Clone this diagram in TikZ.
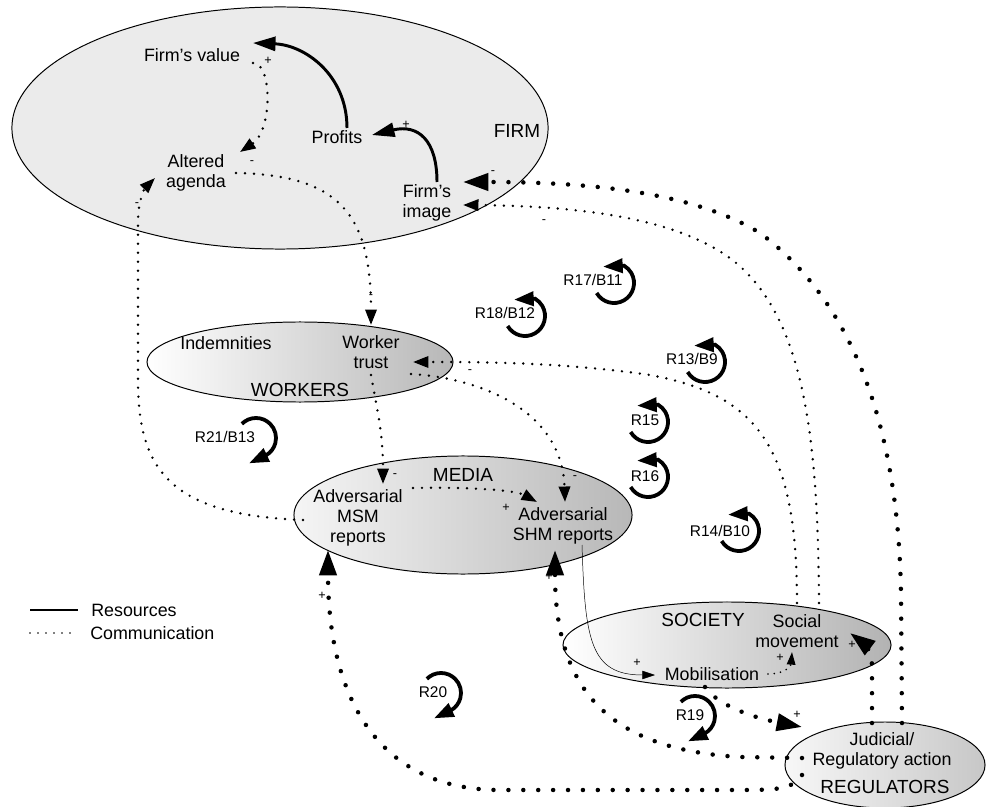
\documentclass[tikz,border=0pt]{standalone}
\usepackage{fontspec}
\setmainfont{Liberation Sans}
\usetikzlibrary{shapes.geometric,arrows.meta,calc}

\begin{document}
\begin{tikzpicture}[x=0.025cm,y=0.025cm,font=\fontsize{12.7}{14.4}\selectfont,
  zone/.style={ellipse,draw,line width=0.7pt,inner sep=0pt},
  txt/.style={align=center,inner sep=1pt},
  zonelbl/.style={inner sep=1pt,font=\fontsize{13.5}{15}\selectfont},
  sgn/.style={inner sep=0pt,font=\fontsize{9}{9}\selectfont},
  res/.style={line width=2.1pt,-{Triangle[length=16pt,width=10pt]}},
  resthin/.style={line width=0.35pt,-{Triangle[length=9pt,width=6pt]}},
  comm/.style={line width=1.9pt,line cap=round,dash pattern=on 0pt off 6.4pt,-{Triangle[length=11pt,width=8pt]}},
  commsmall/.style={line width=1.3pt,line cap=round,dash pattern=on 0pt off 4.5pt,-{Triangle[length=9pt,width=6pt]}},
  commbig/.style={line width=3.2pt,line cap=round,dash pattern=on 0pt off 10.6pt,-{Triangle[length=18pt,width=12pt]}},
  looplbl/.style={inner sep=0pt,font=\fontsize{11}{11}\selectfont},
  looparr/.style={line width=2.7pt,-{Triangle[length=14pt,width=10pt]}}]

\useasboundingbox (0,0) rectangle (987,-807);

% sectors
\node[zone,fill=black!8,minimum width=13.4cm,minimum height=6.05cm] (firm) at (280,-128) {};
\node[zone,left color=white,right color=black!28,minimum width=7.65cm,minimum height=2cm] (workers) at (300,-362) {};
\node[zone,left color=black!4,right color=black!28,minimum width=8.45cm,minimum height=2.95cm] (media) at (463,-515) {};
\node[zone,left color=white,right color=black!30,minimum width=8.2cm,minimum height=2.15cm] (society) at (727,-645) {};
\node[zone,left color=black!3,right color=black!22,minimum width=5cm,minimum height=2.15cm] (regulators) at (885,-765) {};

\node[zonelbl] (firmlbl) at (517,-131) {FIRM};
\node[zonelbl] (workerslbl) at (300,-390) {WORKERS};
\node[zonelbl] (medialbl) at (463,-475) {MEDIA};
\node[zonelbl] (societylbl) at (703,-620) {SOCIETY};
\node[zonelbl] (regulatorslbl) at (885,-787) {REGULATORS};

% variables
\node[txt] (fval) at (192,-55) {Firm’s value};
\node[txt] (prof) at (337,-137) {Profits};
\node[txt] (agenda) at (196,-173) {Altered\\agenda};
\node[txt] (fimage) at (427,-203) {Firm’s\\image};
\node[txt] (indem) at (226,-343) {Indemnities};
\node[txt] (wtrust) at (371,-352) {Worker\\trust};
\node[txt] (msm) at (358,-518) {Adversarial\\MSM\\reports};
\node[txt] (shm) at (563,-526) {Adversarial\\SHM reports};
\node[txt] (smov) at (797,-631) {Social\\movement};
\node[txt] (mobil) at (712,-674) {Mobilisation};
\node[txt] (judic) at (882,-751) {Judicial/\\Regulatory action};

% resources
\draw[res] ($(prof)+(10,9)$) .. controls (347,-75) and (305,-45) .. ($(fval)+(61,12)$);
\draw[res] ($(fimage)+(10,21)$) .. controls (437,-140) and (418,-124) .. ($(prof)+(35,2)$);
\draw[resthin] ($(shm)+(19,-19)$) .. controls (585,-640) and (590,-675) .. ($(mobil)+(-57,-1)$);

% communication
\draw[comm] ($(fval)+(61,-8)$) .. controls (272,-62) and (273,-130) .. ($(agenda)+(44,21)$);
\draw[comm] ($(agenda)+(40,0)$) .. controls (340,-175) and (371,-215) .. ($(wtrust)+(0,27)$);
\draw[comm] ($(msm)+(-55,-2)$) .. controls (170,-515) and (138,-470) .. (138,-380) -- (138,-222)
  .. controls (138,-200) and (145,-188) .. ($(agenda)+(-41,-5)$);
\draw[comm] ($(wtrust)+(0,-23)$) .. controls (376,-405) and (383,-430) .. ($(msm)+(25,34)$);
\draw[comm] ($(wtrust)+(40,-22)$) .. controls (480,-378) and (562,-410) .. ($(shm)+(2,24)$);
\draw[comm] ($(msm)+(55,30)$) .. controls (470,-487) and (515,-490) .. ($(shm)+(-26,24)$);
\draw[comm] ($(smov)+(0,28)$) .. controls (797,-450) and (760,-395) .. (650,-375)
  .. controls (560,-362) and (480,-362) .. ($(wtrust)+(42,-10)$);
\draw[comm] ($(smov)+(22,28)$) .. controls (818,-440) and (805,-320) .. (735,-262)
  .. controls (680,-218) and (580,-206) .. ($(fimage)+(36,-2)$);
\draw[commsmall] ($(mobil)+(56,0)$) .. controls (785,-674) and (791,-666) .. ($(smov)+(-5,-21)$);

% regulators and mobilisation
\draw[commbig] ($(judic)+(20,28)$) -- (901,-593) .. controls (898,-420) and (850,-300) .. (760,-233)
  .. controls (690,-190) and (580,-182) .. ($(fimage)+(36,21)$);
\draw[commbig] ($(judic)+(-80,-24)$) .. controls (792,-789) and (780,-790) .. (740,-790) -- (500,-790)
  .. controls (380,-790) and (328,-700) .. ($(msm)+(-30,-32)$);
\draw[commbig] ($(judic)+(-80,-7)$) -- (740,-757) .. controls (620,-750) and (555,-700) .. ($(shm)+(-8,-24)$);
\draw[commbig] ($(mobil)+(-7,-13)$) .. controls (715,-702) and (745,-716) .. ($(judic)+(-80,24)$);
\draw[commbig] ($(judic)+(-10,28)$) -- (872,-665) .. controls (872,-650) and (862,-642) .. ($(smov)+(53,-2)$);

% signs
\node[sgn] (s1) at (406,-125) {+};
\node[sgn] (s2) at (268,-61) {+};
\node[sgn] (s3) at (252,-163) {-};
\node[sgn] (s4) at (371,-297) {-};
\node[sgn] (s5) at (137,-205) {-};
\node[sgn] (s6) at (395,-476) {-};
\node[sgn] (s7) at (470,-372) {-};
\node[sgn] (s8) at (575,-478) {-};
\node[sgn] (s9) at (506,-508) {+};
\node[sgn] (s10) at (544,-222) {-};
\node[sgn] (s11) at (493,-173) {-};
\node[sgn] (s12) at (322,-596) {+};
\node[sgn] (s13) at (549,-577) {+};
\node[sgn] (s14) at (797,-715) {+};
\node[sgn] (s15) at (852,-645) {+};
\node[sgn] (s16) at (637,-663) {+};
\node[sgn] (s17) at (780,-658) {+};

% loops
\node[looplbl] (r17) at (593,-280) {R17/B11};
\draw[looparr] (614,-283) ++(210:20) arc[start angle=210,end angle=420,radius=0.5cm] -- ++(-21,-1);
\node[looplbl] (r18) at (505,-313) {R18/B12};
\draw[looparr] (525,-316) ++(210:20) arc[start angle=210,end angle=420,radius=0.5cm] -- ++(-21,-1);
\node[looplbl] (r13) at (692,-359) {R13/B9};
\draw[looparr] (705,-362) ++(210:20) arc[start angle=210,end angle=420,radius=0.5cm] -- ++(-21,-1);
\node[looplbl] (r15) at (645,-420) {R15};
\draw[looparr] (648,-422) ++(210:20) arc[start angle=210,end angle=420,radius=0.5cm] -- ++(-21,-1);
\node[looplbl] (r16) at (645,-476) {R16};
\draw[looparr] (648,-477) ++(210:20) arc[start angle=210,end angle=420,radius=0.5cm] -- ++(-21,-1);
\node[looplbl] (r14) at (720,-531) {R14/B10};
\draw[looparr] (739,-531) ++(210:20) arc[start angle=210,end angle=420,radius=0.5cm] -- ++(-21,-1);
\node[looplbl] (r21) at (225,-437) {R21/B13};
\draw[looparr] (256,-438) ++(135:20) arc[start angle=135,end angle=-60,radius=0.5cm] -- ++(-17,-8);
\node[looplbl] (r20) at (433,-692) {R20};
\draw[looparr] (441,-693) ++(135:20) arc[start angle=135,end angle=-60,radius=0.5cm] -- ++(-17,-8);
\node[looplbl] (r19) at (690,-715) {R19};
\draw[looparr] (695,-716) ++(135:20) arc[start angle=135,end angle=-60,radius=0.5cm] -- ++(-17,-8);

% legend
\draw[line width=1.4pt] (30,-610) -- (78,-610);
\node[right,inner sep=0pt] (legres) at (91,-610) {Resources};
\draw[line width=1.2pt,line cap=round,dash pattern=on 0pt off 5.7pt] (30,-633) -- (78,-633);
\node[right,inner sep=0pt] (legcom) at (90,-633) {Communication};

\end{tikzpicture}
\end{document}
